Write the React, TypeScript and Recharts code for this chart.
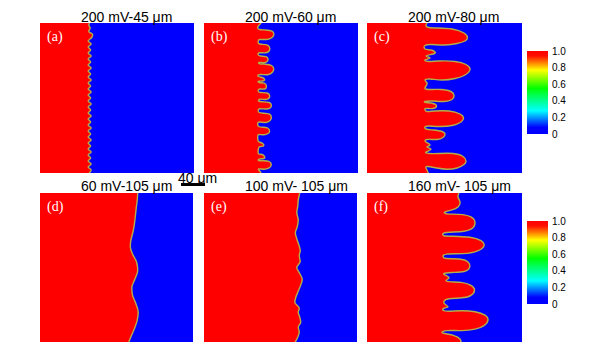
import React from 'react';
import { ComposedChart, Area, XAxis, YAxis, CartesianGrid, BarChart, Bar } from 'recharts';

// Panel titles and tags
const titles = ['200 mV-45 μm', '200 mV-60 μm', '200 mV-80 μm', '60 mV-105 μm', '100 mV- 105 μm', '160 mV- 105 μm'];
const panelTags = ['(a)', '(b)', '(c)', '(d)', '(e)', '(f)'];
const scaleBarLabel = '40 μm';

// Interface (red/blue boundary): [x, y] in grid units (x 0-155 left→right, y 0-150 top→bottom)
const frontA: [number, number][] = [
  [49.5, 0], [51.5, 3], [48.5, 6], [51.5, 9], [48.5, 12], [51, 15], [48.5, 18], [51.5, 21], [48.5, 24], [51, 27],
  [48.5, 30], [51.5, 33], [48.5, 36], [51, 39], [48.5, 42], [51.5, 45], [48.5, 48], [51, 51], [48.5, 54], [51.5, 57],
  [48.5, 60], [51, 63], [48.5, 66], [51.5, 69], [48.5, 72], [51, 75], [48.5, 78], [51.5, 81], [48.5, 84], [51, 87],
  [48.5, 90], [51.5, 93], [48.5, 96], [51, 99], [48.5, 102], [51.5, 105], [48.5, 108], [51, 111], [48.5, 114], [51.5, 117],
  [48.5, 120], [51, 123], [48.5, 126], [51.5, 129], [48.5, 132], [52, 135.5], [53, 138.5], [49, 141.5], [50.5, 145], [49, 148], [50, 150],
];

const frontB: [number, number][] = [
  [57.5, 0], [56, 2], [55, 4], [60, 3.8], [65, 4.8], [67.7, 8], [65.5, 11.5], [60, 12.3], [55, 12.5], [56, 14],
  [60, 14.5], [61, 16.3], [58.5, 18.5], [55, 19], [54.5, 22], [55.5, 26], [59, 26.8], [60, 28.5], [57, 30.5], [54.5, 32],
  [54, 36], [55, 38.5], [60, 38.2], [64.5, 39.5], [66, 42], [64, 45], [59, 45.8], [55, 46.5], [54, 49], [55.5, 51],
  [62, 50.5], [66.5, 52.5], [67.8, 55.5], [66, 58.8], [60, 59.8], [55.5, 60.5], [54.5, 62.5], [56, 64.2], [63, 64], [67, 65.5],
  [67.8, 68], [65.5, 70.5], [59, 71.2], [55, 72], [56.5, 73.8], [62, 73.5], [65.5, 75], [66, 77.5], [63.5, 80], [57, 80.5],
  [54.5, 82], [56, 84], [61, 84], [62.8, 87], [60.5, 89.8], [55.5, 90.5], [55, 91.8], [59, 92], [61, 93.5], [58.5, 95.5],
  [55, 96.5], [54.5, 98], [58, 98.5], [65, 98.5], [69, 101], [70.2, 104], [68, 107.5], [62, 108.8], [56, 109.2], [55.5, 110.5],
  [60, 110.3], [63.5, 111.5], [64.5, 113.7], [62.5, 116.3], [57, 117], [54.5, 118.5], [56, 120.2], [62, 120.2], [65.5, 122], [66.2, 124.5],
  [64, 127.8], [58, 128.7], [55, 129.5], [54.5, 131.5], [56, 133.5], [63, 133.5], [68.5, 135.5], [70.3, 138.5], [68.5, 141.8], [62, 143],
  [56, 143.5], [54, 145], [55, 147.5], [57.5, 150],
];

const frontC: [number, number][] = [
  [61.3, 0], [59.5, 4], [60, 6.5], [70, 5], [80, 3.8], [90, 5], [97, 8.5], [99, 12], [96, 16.5], [86, 19.5],
  [72, 19.5], [62, 19.5], [59, 21], [64, 23.7], [60, 26], [63, 28], [59, 31], [60, 33.5], [70, 33.5], [76, 35.5],
  [78, 38.5], [75, 41.5], [66, 43], [59, 44], [58, 46], [62, 47], [72, 46.5], [85, 47.5], [94, 51], [96.5, 55],
  [93, 59], [82, 62], [68, 62], [60, 61.5], [58, 63], [59, 64.5], [66, 64.5], [69.5, 67], [66, 69.5], [59, 70.5],
  [58, 71.5], [65, 72], [77, 71.5], [85, 73.5], [87, 77.5], [84, 81.5], [74, 83.5], [62, 83.5], [58, 84.5], [59, 87],
  [60, 90], [58, 93], [63, 94], [75, 93], [88, 94.5], [98, 98], [103, 103.5], [99, 108.5], [88, 111.5], [72, 112],
  [62, 111.5], [58, 113], [63, 115], [59, 117], [66, 119], [68, 121], [64, 123], [58, 124], [58, 127.5], [65, 128.5],
  [78, 128], [90, 129.5], [98, 132], [100.5, 135.5], [97, 140], [85, 144], [70, 145], [62, 145.5], [59, 147], [60, 150],
];

const frontD: [number, number][] = [
  [90, 0], [92, 5], [95.5, 13], [98.5, 22], [99.5, 30], [97, 39], [93.5, 48], [93, 55], [96, 63], [99, 72],
  [98, 80], [94, 88], [91.5, 96], [92, 102], [94, 110], [95.5, 118], [96.5, 126], [97.5, 135], [98.5, 143], [99, 150],
];

const frontE: [number, number][] = [
  [92.5, 0], [95, 5], [96.5, 10], [95.5, 15], [98, 20], [97, 25], [95.5, 30], [96.5, 34], [92, 40], [93, 45],
  [95, 50], [97.5, 56], [99.5, 63], [97, 69], [94, 75], [97.5, 81], [96.5, 87], [97.5, 92], [96, 98], [94, 104],
  [92.5, 110], [94.5, 116], [95.5, 123], [94, 130], [95, 137], [95.5, 143], [97, 150],
];

const frontF: [number, number][] = [
  [94, 0], [93, 3], [87, 6.5], [78, 8.5], [75, 10], [80, 11.5], [95, 11.5], [108, 13], [117, 16.5], [121, 22],
  [118, 27], [108, 30.5], [94, 31.5], [82, 31], [76, 32], [77, 34], [81, 35.5], [78, 38], [77, 41], [82, 43.5],
  [95, 44.5], [104, 47], [107.5, 52], [104, 57], [94, 60], [84, 60.5], [79, 62], [82, 64.5], [79, 67], [77, 69],
  [85, 70], [97, 71], [102.5, 75], [101, 80.5], [92, 83.5], [80, 84], [76, 86], [80, 88.5], [96, 89], [110, 91.5],
  [117, 97], [114, 102], [103, 105.5], [86, 106.5], [77, 107], [76, 109], [82, 110.5], [97, 111.5], [106, 115], [108, 120.5],
  [104, 126], [92, 128.5], [80, 129], [78, 131], [85, 133], [91, 136], [93, 141], [91, 146], [92, 150],
];

const fronts = [frontA, frontB, frontC, frontD, frontE, frontF];
const curveTypes = ['monotone', 'natural', 'natural', 'monotone', 'monotone', 'natural'];

// Colour bar
const colorbarTicks = [0, 0.2, 0.4, 0.6, 0.8, 1.0];
const colorbarValue = [{ name: 'phase', value: 1 }];

// Layout (pixels)
const panelBoxes = [
  { left: 40, top: 23, w: 154, h: 150, titleTop: 10 },
  { left: 204, top: 23, w: 154, h: 150, titleTop: 10 },
  { left: 367, top: 23, w: 155, h: 150, titleTop: 10 },
  { left: 40, top: 193, w: 153, h: 149, titleTop: 178.5 },
  { left: 204, top: 193, w: 153, h: 149, titleTop: 178.5 },
  { left: 367, top: 193, w: 155, h: 149, titleTop: 178.5 },
];
const colorbarBoxes = [
  { left: 527, top: 45 },
  { left: 527, top: 215 },
];

const RED = '#ff0000';
const BLUE = '#0000ff';
const SANS = '"Liberation Sans", Arial, sans-serif';

function Panel({ pts, w, h, curve }: { pts: [number, number][]; w: number; h: number; curve: any }) {
  const data = pts.map(([x, y]) => ({ x, y }));
  return (
    <ComposedChart width={w} height={h} data={data} layout="vertical" margin={{ top: 0, right: 0, bottom: 0, left: 0 }}>
      <CartesianGrid fill={BLUE} fillOpacity={1} horizontal={false} vertical={false} stroke="none" />
      <XAxis type="number" domain={[0, 155]} hide allowDataOverflow />
      <YAxis type="number" dataKey="y" domain={[0, 150]} hide reversed allowDataOverflow />
      <Area
        type={curve}
        dataKey="x"
        fill={RED}
        fillOpacity={1}
        stroke="#b4ac48"
        strokeWidth={1.4}
        isAnimationActive={false}
        dot={false}
        activeDot={false}
      />
    </ComposedChart>
  );
}

function ColorBar({ id }: { id: string }) {
  return (
    <BarChart width={54} height={95} data={colorbarValue} margin={{ top: 6, right: 0, bottom: 6, left: 0 }} barCategoryGap={0}>
      <defs>
        <linearGradient id={id} x1="0" y1="0" x2="0" y2="1">
          <stop offset="0" stopColor="#ff0000" />
          <stop offset="0.06" stopColor="#ff1000" />
          <stop offset="0.14" stopColor="#ff8000" />
          <stop offset="0.23" stopColor="#ffff00" />
          <stop offset="0.45" stopColor="#00ff00" />
          <stop offset="0.55" stopColor="#00ff60" />
          <stop offset="0.72" stopColor="#00ffff" />
          <stop offset="0.82" stopColor="#0080ff" />
          <stop offset="0.92" stopColor="#0000ff" />
          <stop offset="1" stopColor="#0000ff" />
        </linearGradient>
      </defs>
      <XAxis dataKey="name" hide />
      <YAxis
        orientation="right"
        domain={[0, 1]}
        ticks={colorbarTicks}
        interval={0}
        tickFormatter={(v: number) => (v === 0 ? '0' : v.toFixed(1))}
        axisLine={false}
        tickLine={false}
        tickSize={0}
        tickMargin={4}
        width={33}
        tick={{ fontSize: 10, fill: '#000', fontFamily: SANS }}
      />
      <Bar dataKey="value" fill={`url(#${id})`} isAnimationActive={false} />
    </BarChart>
  );
}

export default function App() {
  return (
    <div
      style={{
        position: 'absolute',
        left: 0,
        top: 0,
        width: 600,
        height: 350,
        background: '#fff',
        overflow: 'hidden',
        fontFamily: SANS,
      }}
    >
      {panelBoxes.map((p, i) => (
        <React.Fragment key={i}>
          <div style={{ position: 'absolute', left: p.left, top: p.top, width: p.w, height: p.h }}>
            <Panel pts={fronts[i]} w={p.w} h={p.h} curve={curveTypes[i]} />
          </div>
          <div
            style={{
              position: 'absolute',
              left: p.left + 41,
              top: p.titleTop,
              fontSize: 14,
              lineHeight: '14px',
              whiteSpace: 'nowrap',
              color: '#000',
            }}
          >
            {titles[i]}
          </div>
          <div
            style={{
              position: 'absolute',
              left: p.left + 7,
              top: p.top + 7,
              fontSize: 14,
              lineHeight: '14px',
              fontFamily: '"Liberation Serif", "Times New Roman", serif',
              color: '#fff',
              whiteSpace: 'nowrap',
            }}
          >
            {panelTags[i]}
          </div>
        </React.Fragment>
      ))}
      {colorbarBoxes.map((c, i) => (
        <div key={'cb' + i} style={{ position: 'absolute', left: c.left, top: c.top }}>
          <ColorBar id={'jet' + i} />
        </div>
      ))}
      <div style={{ position: 'absolute', left: 178, top: 171, fontSize: 14, lineHeight: '14px', whiteSpace: 'nowrap' }}>
        {scaleBarLabel}
      </div>
      <div style={{ position: 'absolute', left: 181, top: 183, width: 24, height: 3, background: '#000' }} />
    </div>
  );
}
